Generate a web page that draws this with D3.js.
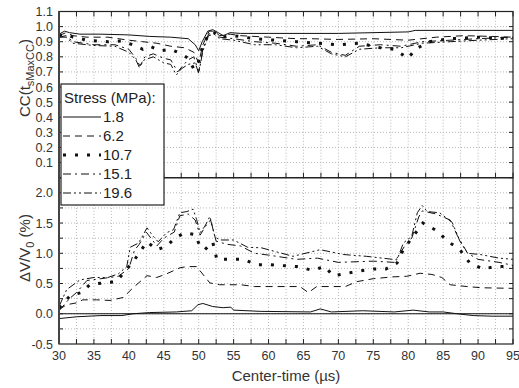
<!DOCTYPE html>
<html>
<head>
<meta charset="utf-8">
<script src="https://d3js.org/d3.v7.min.js"></script>
<style>
body { margin: 0; background: #fff; }
svg { display: block; font-family: "Liberation Sans", Arial, sans-serif; }
.grid line { stroke: #b8b8b8; stroke-dasharray: 1,2; stroke-width: 1; }
.tick-label { fill: #333; font-size: 12.5px; }
.title { fill: #333; font-size: 15px; }
</style>
</head>
<body>
<svg id="chart" width="519" height="388"></svg>
<script>
// stress levels (MPa) and line styles in the legend
const stressLabels = ["1.8", "6.2", "10.7", "15.1", "19.6"];

// top panel: correlation coefficient CC, [center-time µs, value]
const cc_1_8 = [[30,0.95],[30.8,0.97],[31.5,0.96],[33,0.95],[36,0.95],[40,0.945],[43,0.935],[46,0.93],[48.5,0.92],[49.5,0.88],[50,0.84],[50.5,0.9],[51.3,0.97],[52,0.98],[52.8,0.96],[53.5,0.94],[54.5,0.96],[56,0.955],[60,0.955],[70,0.955],[80,0.965],[81,0.975],[95,0.975]];
const cc_6_2 = [[30,0.94],[31,0.96],[32,0.94],[34,0.93],[37,0.93],[40,0.91],[42,0.9],[44,0.89],[46,0.87],[48,0.86],[49.3,0.83],[50,0.76],[50.6,0.88],[51.5,0.97],[52.2,0.97],[53,0.94],[54.5,0.95],[56,0.94],[60,0.93],[64,0.92],[66,0.92],[70,0.915],[75,0.92],[80,0.91],[84,0.93],[88,0.94],[92,0.935],[95,0.93]];
const cc_10_7 = [[30,0.94],[31,0.95],[32,0.93],[34,0.91],[37,0.9],[39,0.905],[40.5,0.88],[42,0.85],[43,0.87],[44.5,0.84],[46,0.85],[47.5,0.82],[48.5,0.79],[49.3,0.72],[49.8,0.74],[50.5,0.86],[51.5,0.96],[52.3,0.96],[53,0.93],[55,0.94],[58,0.92],[61,0.91],[64,0.9],[67,0.89],[70,0.88],[73,0.89],[76,0.86],[78,0.85],[80,0.79],[81,0.85],[83,0.9],[86,0.92],[90,0.93],[95,0.92]];
const cc_15_1 = [[30,0.93],[31,0.94],[32,0.9],[35,0.88],[38,0.88],[40,0.85],[41,0.79],[41.6,0.74],[42.3,0.8],[43.5,0.82],[45,0.79],[46,0.78],[47,0.7],[47.7,0.74],[48.5,0.78],[49.3,0.8],[50,0.7],[50.6,0.85],[51.4,0.95],[52.2,0.96],[53,0.93],[55,0.92],[58,0.9],[61,0.89],[64,0.87],[67,0.88],[69,0.83],[71,0.81],[73,0.87],[76,0.88],[79,0.87],[82,0.9],[86,0.91],[90,0.92],[95,0.93]];
const cc_19_6 = [[30,0.93],[31,0.93],[32,0.89],[35,0.875],[38,0.87],[40,0.83],[41,0.78],[41.5,0.73],[42.2,0.78],[43.5,0.8],[45,0.76],[46,0.75],[46.8,0.68],[47.5,0.72],[48.5,0.75],[49.5,0.76],[50,0.69],[50.6,0.84],[51.4,0.94],[52.2,0.95],[53,0.92],[55,0.91],[58,0.88],[61,0.88],[64,0.86],[67,0.87],[69,0.82],[71,0.8],[73,0.85],[76,0.86],[79,0.86],[82,0.89],[86,0.9],[90,0.91],[95,0.92]];

// bottom panel: velocity change dV/V0 (%), [center-time µs, value]
const dv_1_8 = [[30,-0.08],[32.5,-0.05],[36,-0.03],[39,-0.03],[40.6,0.0],[43,0.02],[46.8,0.03],[49,0.05],[49.9,0.15],[50.6,0.17],[52,0.12],[53.5,0.1],[54.6,0.11],[55,0.06],[58.8,0.04],[66,0.03],[67.4,0.08],[69,0.03],[73.5,0.05],[78,0.03],[80.7,0.06],[83,0.03],[85,0.03],[87,0.0],[89.3,-0.03],[92,-0.04],[95,-0.04]];
const dv_6_2 = [[30,0.07],[31.1,0.15],[32.5,0.18],[33.4,0.23],[35.4,0.23],[37.3,0.22],[39.2,0.27],[40.6,0.43],[42.6,0.63],[44,0.6],[45.4,0.66],[47.3,0.76],[48.3,0.78],[49.7,0.78],[50.9,0.61],[51.6,0.51],[53,0.48],[56,0.48],[58,0.45],[64.5,0.45],[65.7,0.35],[66.9,0.45],[71,0.45],[72.6,0.53],[75,0.58],[77.8,0.61],[79.8,0.62],[81.7,0.67],[83.4,0.65],[84.8,0.6],[86,0.48],[88.4,0.45],[90.5,0.43],[95,0.42]];
const dv_10_7 = [[30,0.1],[31.6,0.3],[33.2,0.35],[34.4,0.48],[36.3,0.51],[38.2,0.53],[40.6,0.86],[42.6,1.19],[44,1.06],[45.3,1.11],[46.6,1.25],[48,1.34],[49.5,1.31],[50.2,1.11],[50.9,1.06],[52,1.19],[52.6,0.9],[54.8,0.9],[56.4,0.9],[58.3,0.81],[60.2,0.81],[64.2,0.78],[66.2,0.72],[68.1,0.78],[69.2,0.63],[70.9,0.66],[72.6,0.7],[75,0.74],[76.8,0.74],[78.4,0.84],[79.3,1.06],[80.7,1.28],[82.1,1.5],[84.3,1.36],[85.5,1.21],[87.4,1.06],[88.8,0.84],[90.7,0.74],[92.4,0.78],[95,0.78]];
const dv_15_1 = [[30,0.05],[31.5,0.25],[32.5,0.35],[34,0.55],[36,0.58],[38.5,0.62],[40,0.75],[40.8,1.05],[41.5,1.15],[42.5,1.35],[43.5,1.2],[44,1.12],[45,1.25],[46.5,1.35],[47.3,1.62],[48.5,1.65],[49.5,1.55],[50.2,1.3],[51,1.45],[51.7,1.55],[52.5,1.2],[54,1.15],[56,1.12],[58,1.0],[60,0.97],[64,0.9],[67,0.92],[70,0.85],[75,0.87],[78,0.85],[79.5,1.12],[80.5,1.25],[81.5,1.6],[82,1.7],[84,1.65],[86,1.55],[87,1.3],[88.5,1.0],[90,0.9],[93,0.85],[95,0.8]];
const dv_19_6 = [[30,0.12],[31.1,0.4],[33,0.56],[35,0.6],[37,0.6],[38.5,0.66],[39.7,0.78],[40.2,1.1],[41.4,1.17],[42.6,1.42],[43.5,1.28],[44.2,1.19],[45.4,1.34],[46.4,1.39],[47.3,1.67],[48.3,1.69],[49.2,1.73],[49.7,1.56],[50.2,1.34],[50.9,1.45],[51.6,1.61],[52.3,1.28],[53,1.22],[55,1.22],[57,1.1],[59,1.09],[63.5,0.95],[67.4,1.06],[70.7,0.98],[74,0.95],[77.8,0.9],[78.4,0.89],[79.3,1.17],[80.5,1.28],[81.3,1.67],[82,1.79],[82.7,1.69],[84.5,1.67],[86.3,1.51],[87.4,1.2],[88.5,1.0],[90.3,0.98],[93,0.92],[95,0.9]];

// axis ticks
const xTicks = [30, 35, 40, 45, 50, 55, 60, 65, 70, 75, 80, 85, 90, 95];
const topTicks = [0.1, 0.2, 0.3, 0.4, 0.5, 0.6, 0.7, 0.8, 0.9, 1.0, 1.1];
const botTicks = [-0.5, 0.0, 0.5, 1.0, 1.5, 2.0];

const ccSeries = [cc_1_8, cc_6_2, cc_10_7, cc_15_1, cc_19_6];
const dvSeries = [dv_1_8, dv_6_2, dv_10_7, dv_15_1, dv_19_6];

const styles = [
  { dash: null, width: 1 },
  { dash: "7,5", width: 1 },
  { dash: "3,9", width: 3 },
  { dash: "8,4,2,4", width: 1 },
  { dash: "8,3,2,3,2,3", width: 1 }
];

const svg = d3.select('#chart');
const pLeft = 59, pRight = 513, pTop = 11.5, pMid = 177.7, pBottom = 344;

const x = d3.scaleLinear().domain([30, 95]).range([pLeft, pRight]);
const yTop = d3.scaleLinear().domain([0, 1.1]).range([pMid, pTop]);
const yBot = d3.scaleLinear().domain([-0.5, 2.25]).range([pBottom, pMid]);

const minorX = d3.range(30, 95.01, 2.5);
const minorTop = d3.range(0.1, 1.101, 0.1);
const minorBot = d3.range(-0.25, 2.251, 0.25);

function panel(y, y0, y1, yGrid, id) {
  const g = svg.append('g');
  // grid
  const grid = g.append('g').attr('class', 'grid');
  grid.selectAll('.gx').data(minorX.slice(1, -1)).enter().append('line')
    .attr('x1', d => x(d)).attr('x2', d => x(d))
    .attr('y1', y0).attr('y2', y1);
  grid.selectAll('.gy').data(yGrid).enter().append('line')
    .attr('x1', pLeft).attr('x2', pRight)
    .attr('y1', d => y(d)).attr('y2', d => y(d));

  svg.append('clipPath').attr('id', id)
    .append('rect').attr('x', pLeft).attr('y', y1).attr('width', pRight - pLeft).attr('height', y0 - y1);
  return g;
}

function drawLines(g, series, y, id) {
  const line = d3.line().x(d => x(d[0])).y(d => y(d[1]));
  series.forEach((s, i) => {
    g.append('path')
      .datum(s)
      .attr('d', line)
      .attr('clip-path', `url(#${id})`)
      .attr('fill', 'none')
      .attr('stroke', '#111')
      .attr('stroke-width', styles[i].width)
      .attr('stroke-dasharray', styles[i].dash);
  });
}

const gTop = panel(yTop, pMid, pTop, minorTop.slice(0, -1), 'clipTop');
const gBot = panel(yBot, pBottom, pMid, minorBot.slice(0, -1), 'clipBot');

// zero reference line
gBot.append('line')
  .attr('x1', pLeft).attr('x2', pRight)
  .attr('y1', yBot(0)).attr('y2', yBot(0))
  .attr('stroke', '#111').attr('stroke-width', 1);

drawLines(gTop, ccSeries, yTop, 'clipTop');
drawLines(gBot, dvSeries, yBot, 'clipBot');

// inward tick marks
function inwardTicks(y, yVals, y0, y1, xTop) {
  const t = svg.append('g').attr('stroke', '#222').attr('stroke-width', 1);
  yVals.forEach(v => {
    t.append('line').attr('x1', pLeft).attr('x2', pLeft + 4).attr('y1', y(v)).attr('y2', y(v));
    t.append('line').attr('x1', pRight).attr('x2', pRight - 4).attr('y1', y(v)).attr('y2', y(v));
  });
  minorX.forEach(v => {
    t.append('line').attr('x1', x(v)).attr('x2', x(v)).attr('y1', y0).attr('y2', y0 - 5);
    if (xTop) t.append('line').attr('x1', x(v)).attr('x2', x(v)).attr('y1', y1).attr('y2', y1 + 5);
  });
}
inwardTicks(yTop, minorTop, pMid, pTop, true);
inwardTicks(yBot, minorBot, pBottom, pMid, false);

// frames
svg.append('rect').attr('x', pLeft).attr('y', pTop).attr('width', pRight - pLeft).attr('height', pMid - pTop)
  .attr('fill', 'none').attr('stroke', '#222').attr('stroke-width', 1.2);
svg.append('rect').attr('x', pLeft).attr('y', pMid).attr('width', pRight - pLeft).attr('height', pBottom - pMid)
  .attr('fill', 'none').attr('stroke', '#222').attr('stroke-width', 1.2);
svg.append('line').attr('x1', pLeft).attr('x2', pLeft).attr('y1', pTop).attr('y2', pBottom)
  .attr('stroke', '#444').attr('stroke-width', 2);

// tick labels
svg.append('g').selectAll('text').data(topTicks).enter().append('text')
  .attr('class', 'tick-label').attr('x', 53).attr('y', d => yTop(d)).attr('dy', '0.36em')
  .attr('text-anchor', 'end').text(d => d.toFixed(1));
svg.append('g').selectAll('text').data(botTicks).enter().append('text')
  .attr('class', 'tick-label').attr('x', 53).attr('y', d => yBot(d)).attr('dy', '0.36em')
  .attr('text-anchor', 'end').text(d => d.toFixed(1));
svg.append('g').selectAll('text').data(xTicks).enter().append('text')
  .attr('class', 'tick-label').attr('x', d => x(d)).attr('y', pBottom + 16)
  .attr('text-anchor', 'middle').text(d => d);

// axis titles
svg.append('text').attr('class', 'title').attr('x', x(62.5)).attr('y', 381)
  .attr('text-anchor', 'middle').text('Center-time (\u00b5s)');

const t1 = svg.append('text').attr('class', 'title')
  .attr('transform', 'translate(30,78) rotate(-90)').attr('text-anchor', 'middle');
t1.append('tspan').text('CC(t');
t1.append('tspan').attr('font-size', '11px').attr('dy', 4).text('sMaxCC');
t1.append('tspan').attr('dy', -4).text(')');

const t2 = svg.append('text').attr('class', 'title')
  .attr('transform', 'translate(30,248) rotate(-90)').attr('text-anchor', 'middle');
t2.append('tspan').text('\u0394V/V');
t2.append('tspan').attr('font-size', '11px').attr('dy', 4).text('0');
t2.append('tspan').attr('dy', -4).text(' (%)');

// legend
const lg = svg.append('g');
lg.append('rect').attr('x', 61).attr('y', 84).attr('width', 103).attr('height', 121)
  .attr('fill', '#fff').attr('stroke', '#222').attr('stroke-width', 1.2);
lg.append('text').attr('x', 64).attr('y', 103).attr('fill', '#222').attr('font-size', '15px')
  .text('Stress (MPa):');
stressLabels.forEach((lab, i) => {
  const yy = 117 + i * 19;
  lg.append('line').attr('x1', 63).attr('x2', 101).attr('y1', yy).attr('y2', yy)
    .attr('stroke', '#111').attr('stroke-width', styles[i].width)
    .attr('stroke-dasharray', styles[i].dash);
  lg.append('text').attr('x', 103).attr('y', yy).attr('dy', '0.36em')
    .attr('fill', '#222').attr('font-size', '15px').text(lab);
});
</script>
</body>
</html>
